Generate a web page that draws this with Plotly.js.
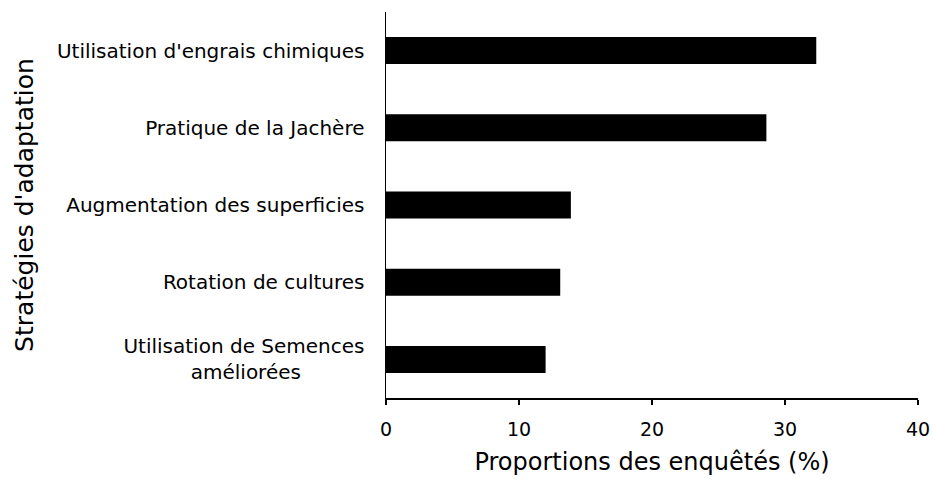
<!DOCTYPE html>
<html>
<head>
<meta charset="utf-8">
<script src="https://cdn.plot.ly/plotly-3.0.1.min.js"></script>
<style>html,body{margin:0;padding:0;background:#fff;}#chart{width:933px;height:479px;}</style>
</head>
<body>
<div id="chart"></div>
<script>
const categories = [
  "Utilisation d'engrais chimiques",
  "Pratique de la Jachère",
  "Augmentation des superficies",
  "Rotation de cultures",
  "Utilisation de Semences<br>améliorées\u00a0\u00a0\u00a0\u00a0\u00a0\u00a0\u00a0\u00a0\u00a0\u00a0"
];
const values = [32.35, 28.6, 13.9, 13.1, 12.0];
const xTicks = [0, 10, 20, 30, 40];

const font = "DejaVu Sans, sans-serif";
Plotly.newPlot('chart', [{
  type: 'bar',
  orientation: 'h',
  x: values,
  y: categories,
  marker: {color: '#000000'},
  hoverinfo: 'none'
}], {
  width: 933, height: 479,
  margin: {l: 386, r: 15, t: 12, b: 81},
  paper_bgcolor: '#fff', plot_bgcolor: '#fff',
  bargap: 0.65,
  showlegend: false,
  font: {family: font, color: '#000', size: 20},
  xaxis: {
    range: [0, 40], tickvals: xTicks, ticktext: xTicks.map(String),
    ticks: 'outside', ticklen: 5, tickwidth: 1.5, tickcolor: '#000',
    showline: true, linecolor: '#000', linewidth: 1.5,
    showgrid: false, zeroline: false,
    ticklabelstandoff: 9,
    tickfont: {family: font, size: 19},
    title: {text: 'Proportions des enquêtés (%)', font: {family: font, size: 24}, standoff: 14}
  },
  yaxis: {
    type: 'category',
    range: [4.5, -0.5],
    ticks: '', showline: true, linecolor: '#000', linewidth: 1.5,
    showgrid: false, zeroline: false,
    ticklabelstandoff: 16,
    tickfont: {family: font, size: 20},
    title: {text: "Stratégies d'adaptation", font: {family: font, size: 25}, standoff: 16}
  }
}, {displayModeBar: false, staticPlot: true});
</script>
</body>
</html>
